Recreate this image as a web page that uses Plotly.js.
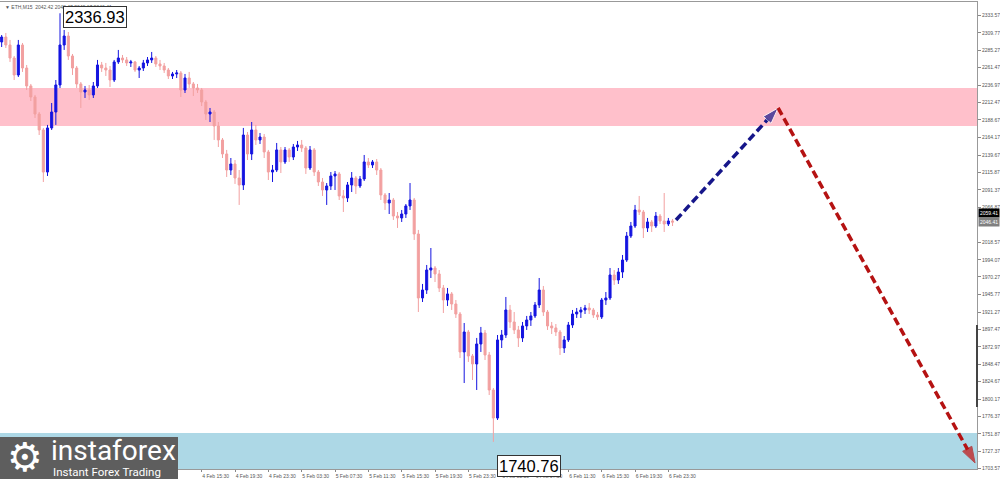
<!DOCTYPE html>
<html><head><meta charset="utf-8">
<script src="https://cdn.plot.ly/plotly-3.0.1.min.js"></script>
<style>html,body{margin:0;padding:0;background:#fff}#chart{width:1000px;height:479px}</style>
</head><body><div id="chart"></div>
<script>
// ---- data (ETH, 30-min candles) ----
const candleStart = '2026-02-03T15:30:00Z';
const candleMinutes = 30;
const opens = [2297.0,2303.9,2292.8,2274.7,2251.1,2292.8,2260.8,2235.8,2220.5,2196.8,
2174.6,2116.1,2177.4,2199.6,2237.2,2292.8,2305.3,2277.5,2260.8,2238.6,
2227.4,2230.2,2223.3,2235.8,2265.0,2260.8,2258.0,2244.1,2269.2,2274.7,
2272.0,2267.8,2269.2,2258.0,2260.8,2267.8,2272.0,2274.7,2266.4,2263.6,
2258.0,2249.7,2252.5,2253.9,2230.2,2246.9,2238.6,2233.0,2230.2,2213.5,
2196.8,2199.6,2180.1,2160.7,2141.2,2118.9,2127.3,2107.8,2098.1,2167.6,
2141.2,2174.6,2160.7,2164.8,2144.0,2116.1,2118.9,2146.8,2130.1,2146.8,
2137.0,2150.9,2153.7,2149.5,2121.7,2146.8,2116.1,2102.2,2091.1,2096.7,
2110.6,2113.4,2082.8,2080.0,2098.1,2107.8,2096.7,2106.4,2130.1,2125.9,
2130.1,2118.9,2084.2,2073.0,2077.2,2054.9,2052.2,2057.7,2068.9,2077.2,
2029.9,1940.9,1952.0,1979.8,1982.6,1974.3,1954.8,1938.1,1946.5,1932.5,
1918.6,1865.8,1893.6,1860.2,1849.1,1876.9,1892.2,1861.6,1812.9,1773.9,
1882.5,1889.4,1924.2,1907.5,1896.4,1885.3,1902.0,1910.3,1915.9,1931.2,
1952.0,1921.4,1902.0,1899.2,1893.6,1871.3,1882.5,1903.3,1918.6,1921.4,
1924.2,1927.0,1924.2,1917.3,1914.5,1938.1,1940.9,1972.9,1965.9,1977.0,
1993.7,2027.1,2041.0,2063.3,2060.5,2038.3,2046.6,2041.0,2054.9,2048.0,
2043.8,2048.0];
const highs = [2306.7,2309.5,2299.8,2277.5,2299.8,2295.6,2265.0,2238.6,2223.3,2199.6,
2177.4,2181.6,2212.1,2244.1,2336.93,2313.7,2310.9,2280.3,2263.6,2241.3,
2235.8,2237.2,2241.3,2272.0,2269.2,2267.8,2263.6,2272.0,2285.9,2278.9,
2276.1,2272.0,2270.6,2263.6,2272.0,2276.1,2283.1,2277.5,2272.0,2267.8,
2260.8,2255.3,2258.0,2256.6,2252.5,2255.3,2241.3,2238.6,2233.0,2216.3,
2205.2,2202.4,2185.7,2163.4,2146.8,2135.6,2132.8,2118.9,2177.4,2171.8,
2185.7,2181.6,2170.4,2169.0,2146.8,2125.9,2156.5,2150.9,2150.9,2149.5,
2155.1,2159.3,2160.7,2152.3,2152.3,2149.5,2118.9,2107.8,2100.8,2116.1,
2117.5,2116.1,2091.1,2102.2,2116.1,2110.6,2110.6,2139.8,2135.6,2132.8,
2134.2,2121.7,2086.9,2086.9,2080.0,2060.5,2063.3,2071.6,2100.8,2080.0,
2035.5,1960.4,1986.8,2010.4,1985.4,1979.8,1959.0,1954.8,1949.2,1938.1,
1921.4,1906.1,1896.4,1863.0,1885.3,1900.6,1896.4,1865.8,1815.7,1889.4,
1896.4,1942.3,1931.2,1921.4,1902.0,1907.5,1915.9,1921.4,1935.3,1968.7,
1957.6,1924.2,1907.5,1904.7,1896.4,1888.0,1907.5,1924.2,1927.0,1928.4,
1931.2,1933.9,1927.0,1921.4,1940.9,1949.2,1982.6,1979.8,1982.6,2000.7,
2032.7,2046.6,2070.3,2082.8,2063.3,2052.2,2049.4,2060.5,2057.7,2086.9,
2052.2,2050.8];
const lows = [2290.0,2288.6,2269.2,2244.1,2248.3,2255.3,2230.2,2214.9,2191.3,2167.6,
2102.2,2110.6,2174.6,2181.6,2233.0,2285.9,2272.0,2251.1,2233.0,2205.2,
2219.1,2216.3,2219.1,2233.0,2255.3,2249.7,2234.4,2241.3,2266.4,2267.8,
2263.6,2262.2,2255.3,2246.9,2256.6,2263.6,2267.8,2262.2,2258.0,2253.9,
2245.5,2245.5,2246.9,2220.5,2226.0,2233.0,2221.9,2226.0,2207.9,2188.5,
2185.7,2160.7,2150.9,2135.6,2109.2,2112.0,2099.5,2070.3,2091.1,2132.8,
2132.8,2153.7,2155.1,2135.6,2105.0,2102.2,2116.1,2114.7,2127.3,2130.1,
2132.8,2145.4,2144.0,2113.4,2118.9,2110.6,2096.7,2082.8,2070.3,2091.1,
2091.1,2077.2,2060.5,2074.4,2088.3,2085.5,2093.9,2103.6,2121.7,2121.7,
2112.0,2077.2,2063.3,2057.7,2049.4,2038.3,2046.6,2052.2,2063.3,2021.6,
1921.4,1935.3,1946.5,1968.7,1963.1,1949.2,1920.0,1929.8,1924.2,1913.1,
1857.4,1822.6,1851.9,1826.8,1812.9,1865.8,1854.6,1805.9,1740.76,1771.2,
1871.3,1885.3,1899.2,1890.8,1872.7,1879.7,1896.4,1902.0,1913.1,1927.0,
1915.9,1896.4,1890.8,1888.0,1861.6,1864.4,1879.7,1899.2,1913.1,1913.1,
1918.6,1918.6,1913.1,1910.3,1911.7,1931.2,1938.1,1959.0,1960.4,1968.7,
1991.0,2024.3,2038.3,2056.3,2024.3,2032.7,2032.7,2038.3,2043.8,2032.7,
2041.0,2041.0];
const closes = [2303.9,2292.8,2274.7,2251.1,2292.8,2260.8,2235.8,2220.5,2196.8,2174.6,
2116.1,2177.4,2199.6,2237.2,2292.8,2305.3,2277.5,2260.8,2238.6,2227.4,
2230.2,2223.3,2235.8,2265.0,2260.8,2258.0,2244.1,2269.2,2274.7,2272.0,
2267.8,2269.2,2258.0,2260.8,2267.8,2272.0,2274.7,2266.4,2263.6,2258.0,
2249.7,2252.5,2253.9,2230.2,2246.9,2238.6,2233.0,2230.2,2213.5,2196.8,
2199.6,2180.1,2160.7,2141.2,2118.9,2127.3,2107.8,2098.1,2167.6,2141.2,
2174.6,2160.7,2164.8,2144.0,2116.1,2118.9,2146.8,2130.1,2146.8,2137.0,
2150.9,2153.7,2149.5,2121.7,2146.8,2116.1,2102.2,2091.1,2096.7,2110.6,
2113.4,2082.8,2080.0,2098.1,2107.8,2096.7,2106.4,2130.1,2125.9,2130.1,
2118.9,2084.2,2073.0,2077.2,2054.9,2052.2,2057.7,2068.9,2077.2,2029.9,
1940.9,1952.0,1979.8,1982.6,1974.3,1954.8,1938.1,1946.5,1932.5,1918.6,
1865.8,1893.6,1860.2,1849.1,1876.9,1892.2,1861.6,1812.9,1773.9,1882.5,
1889.4,1924.2,1907.5,1896.4,1885.3,1902.0,1910.3,1915.9,1931.2,1952.0,
1921.4,1902.0,1899.2,1893.6,1871.3,1882.5,1903.3,1918.6,1921.4,1924.2,
1927.0,1924.2,1917.3,1914.5,1938.1,1940.9,1972.9,1965.9,1977.0,1993.7,
2027.1,2041.0,2063.3,2060.5,2038.3,2046.6,2041.0,2054.9,2048.0,2043.8,
2048.0,2046.41];

// wave forecast (dashed arrows)
const forecastTimes = ['2026-02-07 00:25', '2026-02-07 12:40', '2026-02-08 12:18'];
const forecastPrices = [2049.4, 2205.2, 1711.4];

// zones
const resistanceZone = [2180.1, 2233.0];
const supportZone = [1703.0, 1753.1];

// axis labels
const yTickVals = [2333.57,2309.77,2285.27,2261.47,2236.97,2212.47,2188.67,2164.17,2139.67,2115.87,
2091.37,2066.87,2018.57,1994.07,1970.27,1945.77,1921.27,1897.47,1872.97,1848.47,1824.67,1800.17,
1776.37,1751.87,1727.37,1703.57];
const xTickVals = ['2026-02-04 15:30','2026-02-04 19:30','2026-02-04 23:30','2026-02-05 03:30',
'2026-02-05 07:30','2026-02-05 11:30','2026-02-05 15:30','2026-02-05 19:30','2026-02-05 23:30',
'2026-02-06 03:30','2026-02-06 07:30','2026-02-06 11:30','2026-02-06 15:30','2026-02-06 19:30',
'2026-02-06 23:30'];
const markerPrice = 2059.41;
const lastPrice = 2046.41;
const headerText = '\u25BC ETH,M15  2042.42 2048.47 2042.17 2046.41';
const xRange = ['2026-02-03 15:18', '2026-02-08 12:32'];
const yRange = [1703.0, 2352.6];

// ---- build ----
const t0 = Date.parse(candleStart);
const times = opens.map((_, i) => new Date(t0 + i * candleMinutes * 60000).toISOString().slice(0,16).replace('T',' '));
let peakIdx = 0, troughIdx = 0;
highs.forEach((h, i) => { if (h > highs[peakIdx]) peakIdx = i; });
lows.forEach((l, i) => { if (l < lows[troughIdx]) troughIdx = i; });

const blue = '#1414e0', pink = '#f2a0a0';
const traces = [
  {type:'candlestick', x:times, open:opens, high:highs, low:lows, close:closes,
   increasing:{line:{color:blue,width:1}, fillcolor:blue},
   decreasing:{line:{color:pink,width:1}, fillcolor:pink},
   whiskerwidth:0, hoverinfo:'skip', showlegend:false},
  {type:'scatter', mode:'lines+markers', x:forecastTimes.slice(0,2), y:forecastPrices.slice(0,2),
   line:{color:'#16168a', width:3.5, dash:'8px,4px'},
   marker:{symbol:'arrow', size:[0,17], angleref:'previous', color:'#16168a'},
   cliponaxis:false, hoverinfo:'skip', showlegend:false},
  {type:'scatter', mode:'lines+markers', x:forecastTimes.slice(1,3), y:forecastPrices.slice(1,3),
   line:{color:'#b51212', width:3.5, dash:'8px,4px'},
   marker:{symbol:'arrow', size:[0,17], angleref:'previous', color:'#c41010'},
   cliponaxis:false, hoverinfo:'skip', showlegend:false}
];

const plotH = 467, plotW = 977, plotTop = 2;
const py = ypix => (plotTop + plotH - ypix) / plotH;
const px = xpix => xpix / plotW;

const axisFont = {family:'Liberation Sans, Arial, sans-serif', size:5, color:'#555'};
const boxFont = {family:'Liberation Sans Narrow, Liberation Sans, Arial, sans-serif', size:16.5, color:'#000'};

const layout = {
  width:1000, height:479, margin:{l:0, r:23, t:plotTop, b:479-plotTop-plotH},
  paper_bgcolor:'#fff', plot_bgcolor:'#fff', showlegend:false, dragmode:false,
  font:axisFont,
  xaxis:{type:'date', range:xRange, rangeslider:{visible:false}, showgrid:false, zeroline:false,
    tickvals:xTickVals, tickformat:'%-d %b %H:%M', tickangle:0,
    ticks:'outside', ticklen:2, tickcolor:'#888', showline:true, linecolor:'#999', linewidth:1, mirror:true,
    tickfont:axisFont, ticklabelshift:14, fixedrange:true},
  yaxis:{side:'right', range:yRange, tickvals:yTickVals, ticktext:yTickVals.map(v => v.toFixed(2)),
    ticks:'outside', ticklen:3, tickcolor:'#888', showline:true, linecolor:'#999', linewidth:1, mirror:true,
    showgrid:false, zeroline:false, tickfont:axisFont, fixedrange:true},
  shapes:[
    {type:'rect', xref:'paper', x0:0, x1:1, yref:'y', y0:resistanceZone[0], y1:resistanceZone[1],
     fillcolor:'#ffc0cb', line:{width:0}, layer:'below'},
    {type:'rect', xref:'paper', x0:0, x1:1, yref:'y', y0:supportZone[0], y1:supportZone[1],
     fillcolor:'#add8e6', line:{width:0}, layer:'below'},
    {type:'line', xref:'paper', x0:1, x1:1, yref:'y', y0:1789.3, y1:1903.3, line:{color:'#444', width:2}},
    {type:'rect', xref:'paper', x0:0, x1:px(178), yref:'paper', y0:py(481), y1:py(437),
     fillcolor:'#5e5e5e', line:{width:0}, layer:'above'}
  ],
  annotations:[
    {xref:'paper', yref:'paper', x:0, y:1, xanchor:'left', yanchor:'top', xshift:3, yshift:0,
     text:headerText, showarrow:false, font:{family:'Liberation Sans, Arial', size:5, color:'#555'}},
    {x:times[peakIdx], y:highs[peakIdx], xanchor:'left', yanchor:'middle', xshift:3, yshift:-4,
     text:highs[peakIdx].toFixed(2), showarrow:false, font:boxFont,
     bgcolor:'#fff', bordercolor:'#333', borderwidth:1, borderpad:1},
    {x:times[troughIdx], y:lows[troughIdx], xanchor:'left', yanchor:'middle', xshift:4, yshift:-24,
     text:lows[troughIdx].toFixed(2), showarrow:false, font:boxFont,
     bgcolor:'#fff', bordercolor:'#333', borderwidth:1, borderpad:1},
    {xref:'paper', x:1, y:markerPrice, xanchor:'left', yanchor:'middle', xshift:1,
     text:markerPrice.toFixed(2), showarrow:false, bgcolor:'#000', borderpad:1,
     font:{family:'Liberation Sans, Arial', size:5, color:'#fff'}},
    {xref:'paper', x:1, y:lastPrice, xanchor:'left', yanchor:'middle', xshift:1,
     text:lastPrice.toFixed(2), showarrow:false, bgcolor:'#808080', borderpad:1,
     font:{family:'Liberation Sans, Arial', size:5, color:'#fff'}},
    {xref:'paper', yref:'paper', x:px(25), y:py(457), xanchor:'center', yanchor:'middle',
     text:'\u2699', showarrow:false, font:{family:'DejaVu Sans', size:40, color:'#fff'}},
    {xref:'paper', yref:'paper', x:px(49), y:py(450), xanchor:'left', yanchor:'middle',
     text:'instaforex', showarrow:false, font:{family:'Roboto, Liberation Sans', size:28, color:'#fff'}},
    {xref:'paper', yref:'paper', x:px(51), y:py(472), xanchor:'left', yanchor:'middle',
     text:'Instant Forex Trading', showarrow:false, font:{family:'Roboto, Liberation Sans', size:11.5, color:'#fff'}}
  ]
};

Plotly.newPlot('chart', traces, layout, {displayModeBar:false, staticPlot:true});
</script></body></html>
